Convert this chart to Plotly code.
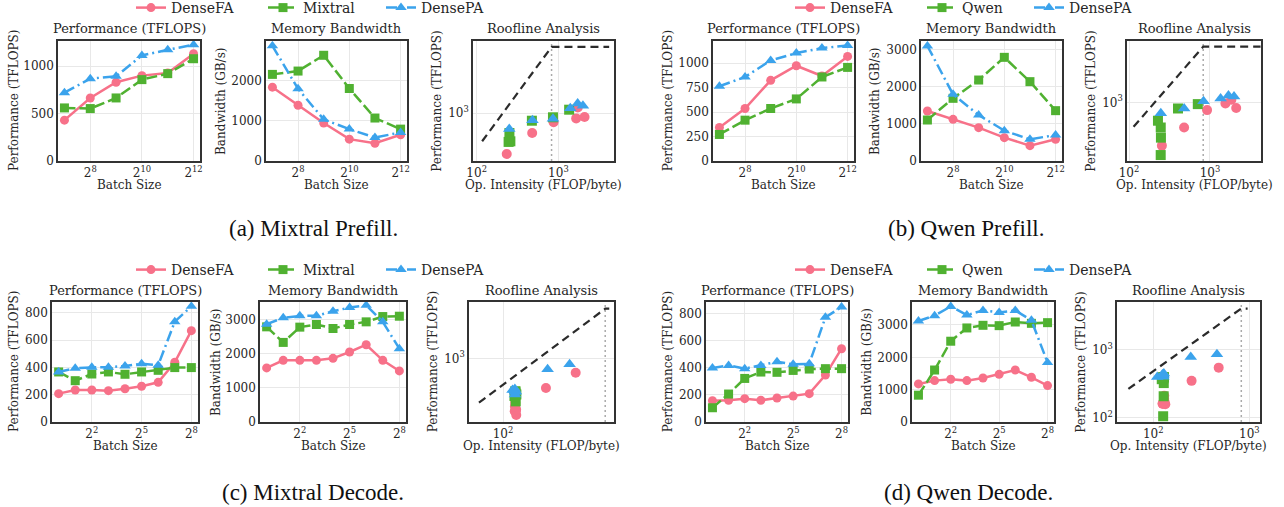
import numpy as np
import plotly.graph_objects as go

W, H = 1284, 507
FONT = "DejaVu Serif"
CAP_FONT = "Liberation Serif"
TXT = "#262626"

# ---------------- hardware roofline constants ----------------
PEAK_TFLOPS = 3958.0      # TFLOPS
PEAK_BW_TBPS = 4.8        # TB/s
RIDGE = PEAK_TFLOPS / PEAK_BW_TBPS

# ---------------- data ----------------
prefill_batch = [128, 256, 512, 1024, 2048, 4096]
decode_batch = [1, 2, 4, 8, 16, 32, 64, 128, 256]

# (a) Mixtral Prefill
mix_pre_perf_fa = [430, 664, 829, 899, 927, 1129]
mix_pre_perf_moe = [559, 552, 664, 857, 920, 1077]
mix_pre_perf_pa = [720, 867, 892, 1112, 1171, 1224]
mix_pre_bw_fa = [1844, 1391, 950, 545, 444, 654]
mix_pre_bw_moe = [2163, 2246, 2640, 1810, 1073, 796]
mix_pre_bw_pa = [2875, 1802, 1040, 796, 587, 712]

# (b) Qwen Prefill
qwen_pre_perf_fa = [342, 536, 824, 973, 868, 1068]
qwen_pre_perf_moe = [271, 417, 536, 634, 858, 956]
qwen_pre_perf_pa = [763, 858, 1027, 1102, 1153, 1180]
qwen_pre_bw_fa = [1343, 1119, 895, 627, 412, 582]
qwen_pre_bw_moe = [1101, 1683, 2175, 2784, 2131, 1352]
qwen_pre_bw_pa = [3089, 1790, 1235, 815, 582, 698]

# (c) Mixtral Decode
mix_dec_perf_fa = [208, 235, 235, 230, 244, 262, 291, 438, 670]
mix_dec_perf_moe = [367, 303, 352, 367, 350, 367, 379, 399, 399]
mix_dec_perf_pa = [367, 394, 401, 401, 411, 428, 416, 736, 848]
mix_dec_bw_fa = [1583, 1806, 1806, 1806, 1864, 2049, 2262, 1806, 1495]
mix_dec_bw_moe = [2786, 2330, 2777, 2854, 2738, 2854, 2932, 3087, 3097]
mix_dec_bw_pa = [2864, 3049, 3107, 3107, 3243, 3350, 3417, 2932, 2146]

# (d) Qwen Decode
qwen_dec_perf_fa = [157, 160, 172, 160, 177, 191, 209, 346, 540]
qwen_dec_perf_moe = [105, 206, 321, 368, 366, 380, 390, 393, 393]
qwen_dec_perf_pa = [398, 417, 393, 417, 444, 425, 429, 771, 847]
qwen_dec_bw_fa = [1177, 1279, 1320, 1279, 1361, 1474, 1607, 1382, 1126]
qwen_dec_bw_moe = [829, 1607, 2497, 2907, 2989, 2978, 3091, 3050, 3071]
qwen_dec_bw_pa = [3122, 3286, 3572, 3306, 3449, 3388, 3449, 3142, 1842]

PANELS = [
    dict(caption="(a) Mixtral Prefill.", names=["DenseFA", "Mixtral", "DensePA"],
         batch=prefill_batch, btick=[256, 1024, 4096], btext=["8", "10", "12"], pdtick=500,
         perf=[mix_pre_perf_fa, mix_pre_perf_moe, mix_pre_perf_pa],
         bw=[mix_pre_bw_fa, mix_pre_bw_moe, mix_pre_bw_pa]),
    dict(caption="(b) Qwen Prefill.", names=["DenseFA", "Qwen", "DensePA"],
         batch=prefill_batch, btick=[256, 1024, 4096], btext=["8", "10", "12"], pdtick=250,
         perf=[qwen_pre_perf_fa, qwen_pre_perf_moe, qwen_pre_perf_pa],
         bw=[qwen_pre_bw_fa, qwen_pre_bw_moe, qwen_pre_bw_pa]),
    dict(caption="(c) Mixtral Decode.", names=["DenseFA", "Mixtral", "DensePA"],
         batch=decode_batch, btick=[4, 32, 256], btext=["2", "5", "8"], pdtick=200,
         perf=[mix_dec_perf_fa, mix_dec_perf_moe, mix_dec_perf_pa],
         bw=[mix_dec_bw_fa, mix_dec_bw_moe, mix_dec_bw_pa]),
    dict(caption="(d) Qwen Decode.", names=["DenseFA", "Qwen", "DensePA"],
         batch=decode_batch, btick=[4, 32, 256], btext=["2", "5", "8"], pdtick=200,
         perf=[qwen_dec_perf_fa, qwen_dec_perf_moe, qwen_dec_perf_pa],
         bw=[qwen_dec_bw_fa, qwen_dec_bw_moe, qwen_dec_bw_pa]),
]

# ---------------- geometry (reference pixels) ----------------
GEOM = [
    dict(xs=[(58, 200), (266, 407), (473, 614)], y=(41, 161), ylab=[14, 221, 436.7],
         cap=(313, 228), leg_x=[136, 268, 386], leg_y=8, title_y=29, xlab_y=185,
         roof_x=(1.955, 3.68), roof_y=(2.570, 3.651)),
    dict(xs=[(713, 854), (921, 1062), (1127, 1261)], y=(41, 161), ylab=[668.3, 875, 1090.7],
         cap=(966, 228), leg_x=[795, 927, 1034], leg_y=8, title_y=29, xlab_y=185,
         roof_x=(1.975, 3.63), roof_y=(2.369, 3.659)),
    dict(xs=[(52, 198), (260, 406), (469, 614)], y=(302, 422), ylab=[14, 216, 433.3],
         cap=(313, 492), leg_x=[136, 268, 386], leg_y=270, title_y=290.5, xlab_y=446,
         roof_x=(1.695, 2.995), roof_y=(2.233, 3.678)),
    dict(xs=[(706, 848), (912, 1054), (1117, 1260)], y=(302, 422), ylab=[668.3, 866.7, 1080.7],
         cap=(968, 492), leg_x=[795, 927, 1034], leg_y=270, title_y=290.5, xlab_y=446,
         roof_x=(1.622, 3.111), roof_y=(1.937, 3.693)),
]

COLORS = ["#f77189", "#50b131", "#3ba3ec"]
SYMBOLS = ["circle", "square", "triangle-up"]
DASHES = ["solid", "11px,4px", "11px,4px,2px,4px"]
MSIZE = [9, 9, 10]


def px_x(x):
    return x / W


def px_y(y):
    return 1 - y / H


fig = go.Figure()
layout = dict(
    width=W, height=H, autosize=False,
    margin=dict(l=0, r=0, t=0, b=0, pad=0, autoexpand=False),
    paper_bgcolor="white", plot_bgcolor="white",
    font=dict(family=FONT, size=12, color=TXT),
    showlegend=True,
)
annotations = []

AX_COMMON = dict(showline=True, mirror=True, linecolor="#333333", linewidth=1.6,
                 showgrid=True, gridcolor="#e8e8e8", gridwidth=1, zeroline=False,
                 ticks="", tickfont=dict(family=FONT, size=12, color=TXT))


def sup(base, e):
    return f"{base}<sup>{e}</sup>"


leg_count = 0
for p, (panel, g) in enumerate(zip(PANELS, GEOM)):
    ytop, ybot = g["y"]
    ydom = [px_y(ybot), px_y(ytop)]
    batch = np.array(panel["batch"], dtype=float)
    lb = np.log2(batch)
    span = lb.max() - lb.min()
    brange = [np.log10(2 ** (lb.min() - 0.05 * span)), np.log10(2 ** (lb.max() + 0.05 * span))]

    titles = ["Performance (TFLOPS)", "Memory Bandwidth", "Roofline Analysis"]
    ylabels = ["Performance (TFLOPS)", "Bandwidth (GB/s)", "Performance (TFLOPS)"]
    xlabels = ["Batch Size", "Batch Size", "Op. Intensity (FLOP/byte)"]

    # one legend per entry so that each entry sits where the reference puts it
    leg_ids = []
    for s in range(3):
        leg_count += 1
        lid = "legend" if leg_count == 1 else f"legend{leg_count}"
        leg_ids.append(lid)
        layout[lid] = dict(orientation="h", x=px_x(g["leg_x"][s] - 5), y=px_y(g["leg_y"]),
                           xanchor="left", yanchor="middle", itemwidth=30,
                           bgcolor="rgba(0,0,0,0)", borderwidth=0,
                           font=dict(family=FONT, size=14, color=TXT))

    for j in range(3):
        k = 3 * p + j + 1
        xname = "xaxis" if k == 1 else f"xaxis{k}"
        yname = "yaxis" if k == 1 else f"yaxis{k}"
        xref = "x" if k == 1 else f"x{k}"
        yref = "y" if k == 1 else f"y{k}"
        x0, x1 = g["xs"][j]
        xdom = [px_x(x0), px_x(x1)]

        if j < 2:
            series = panel["perf"] if j == 0 else panel["bw"]
            allv = np.concatenate([np.array(s, float) for s in series])
            ytop_val = allv.max() + 0.05 * (allv.max() - allv.min())
            for s in range(3):
                fig.add_trace(go.Scatter(
                    x=panel["batch"], y=series[s], xaxis=xref, yaxis=yref,
                    mode="lines+markers", name=panel["names"][s],
                    legend=leg_ids[s], showlegend=(j == 0),
                    line=dict(color=COLORS[s], width=2.5, dash=DASHES[s]),
                    marker=dict(symbol=SYMBOLS[s], size=MSIZE[s], color=COLORS[s],
                                line=dict(width=0)),
                ))
            layout[xname] = dict(AX_COMMON, domain=xdom, anchor=yref, type="log",
                                 range=brange, tickvals=panel["btick"],
                                 ticktext=[sup("2", e) for e in panel["btext"]])
            layout[yname] = dict(AX_COMMON, domain=ydom, anchor=xref, range=[0, ytop_val],
                                 dtick=panel["pdtick"] if j == 0 else 1000, tick0=0)
        else:
            intens = [np.array(pf, float) / np.array(b, float) * 1000.0
                      for pf, b in zip(panel["perf"], panel["bw"])]
            alli = np.concatenate(intens)
            lo, hi = alli.min() / 2, alli.max() * 2
            rx = [lo, RIDGE, hi] if hi > RIDGE else [lo, hi]
            ry = [min(PEAK_TFLOPS, PEAK_BW_TBPS * v) for v in rx]
            yr = g["roof_y"]
            # ridge point line (vertical, dotted)
            fig.add_trace(go.Scatter(
                x=[RIDGE, RIDGE], y=[10 ** yr[0], 10 ** yr[1]], xaxis=xref, yaxis=yref,
                mode="lines", showlegend=False, hoverinfo="skip",
                line=dict(color="#aaaaaa", width=1.5, dash="2px,3px"),
            ))
            fig.add_trace(go.Scatter(
                x=rx, y=ry, xaxis=xref, yaxis=yref, mode="lines", showlegend=False,
                line=dict(color="#2b2b2b", width=2.2, dash="8px,5px"),
            ))
            for s in range(3):
                fig.add_trace(go.Scatter(
                    x=intens[s], y=panel["perf"][s], xaxis=xref, yaxis=yref,
                    mode="markers", showlegend=False,
                    marker=dict(symbol=SYMBOLS[s], size=MSIZE[s] + 1, color=COLORS[s],
                                line=dict(width=0)),
                ))
            layout[xname] = dict(AX_COMMON, domain=xdom, anchor=yref, type="log",
                                 range=list(g["roof_x"]), tickvals=[100, 1000],
                                 ticktext=[sup("10", 2), sup("10", 3)])
            layout[yname] = dict(AX_COMMON, domain=ydom, anchor=xref, type="log",
                                 range=list(yr), tickvals=[100, 1000],
                                 ticktext=[sup("10", 2), sup("10", 3)])

        cx = (x0 + x1) / 2
        annotations.append(dict(text=titles[j], x=px_x(cx), y=px_y(g["title_y"]),
                                xref="paper", yref="paper", showarrow=False,
                                xanchor="center", yanchor="middle",
                                font=dict(family=FONT, size=13, color=TXT)))
        annotations.append(dict(text=xlabels[j], x=px_x(cx), y=px_y(g["xlab_y"]),
                                xref="paper", yref="paper", showarrow=False,
                                xanchor="center", yanchor="middle",
                                font=dict(family=FONT, size=12, color=TXT)))
        annotations.append(dict(text=ylabels[j], x=px_x(g["ylab"][j]),
                                y=px_y((ytop + ybot) / 2),
                                xref="paper", yref="paper", showarrow=False, textangle=-90,
                                xanchor="center", yanchor="middle",
                                font=dict(family=FONT, size=12, color=TXT)))

    annotations.append(dict(text=panel["caption"], x=px_x(g["cap"][0]), y=px_y(g["cap"][1]),
                            xref="paper", yref="paper", showarrow=False,
                            xanchor="center", yanchor="middle",
                            font=dict(family=CAP_FONT, size=23, color="#111111")))

layout["annotations"] = annotations
fig.update_layout(**layout)
# remove the browser's default 8px body margin so the figure starts at the page corner
fig.write_html("out.html",
               config={"displayModeBar": False},
               post_script="document.body.style.margin='0';document.body.style.padding='0';")
